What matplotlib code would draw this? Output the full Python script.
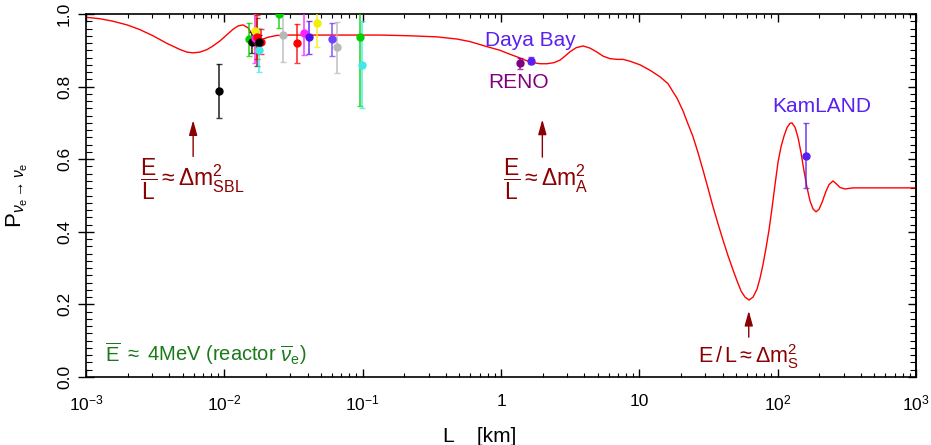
import numpy as np
import matplotlib
matplotlib.use("Agg")
import matplotlib.pyplot as plt
from matplotlib.ticker import FixedLocator, FixedFormatter, LogLocator, MultipleLocator, NullFormatter

# survival probability curve
L_curve = [0.00100, 0.00126, 0.00157, 0.00198, 0.00245, 0.00305, 0.00385, 0.00479, 0.00537,
           0.00594, 0.00667, 0.00750, 0.00828, 0.00931, 0.01045, 0.01156, 0.01256, 0.01365,
           0.01483, 0.01585, 0.01722, 0.0187, 0.0207, 0.0240, 0.0296, 0.0352,
           0.133, 0.220, 0.344, 0.481, 0.597, 0.793, 0.984, 1.162, 1.305, 1.491, 1.704,
           1.914, 2.151, 2.416, 2.671, 2.901, 3.155, 3.486, 3.917, 4.400, 4.944, 5.464,
           6.138, 6.897, 7.621, 8.56, 10.11, 11.95, 14.11, 16.12, 17.23, 18.73, 20.69,
           22.48, 24.44, 26.56, 28.86, 31.37, 34.09, 37.05, 40.27, 43.77, 47.56, 50.83,
           54.35, 58.08, 62.09, 66.33, 70.91, 74.54, 78.36, 82.36, 86.58, 91.02, 95.70,
           100.6, 105.7, 111.2, 116.8, 122.9, 127.0, 133.5, 140.3, 147.5, 155.0, 163.0,
           171.3, 180.1, 189.4, 199.0, 209.3, 223.7, 235.1, 251.2, 264.1, 282.3, 306.9,
           350.5, 1000.0]
P_curve = [0.991, 0.987, 0.980, 0.970, 0.957, 0.940, 0.919, 0.902, 0.895,
           0.893, 0.895, 0.902, 0.912, 0.926, 0.943, 0.958, 0.967, 0.970,
           0.962, 0.945, 0.932, 0.930, 0.936, 0.941, 0.942, 0.942,
           0.942, 0.940, 0.937, 0.931, 0.924, 0.910, 0.900, 0.889, 0.882, 0.873, 0.866,
           0.863, 0.863, 0.866, 0.873, 0.884, 0.896, 0.907, 0.912, 0.906, 0.895, 0.884,
           0.877, 0.875, 0.875, 0.870, 0.860, 0.845, 0.827, 0.808, 0.790, 0.768, 0.733,
           0.697, 0.662, 0.618, 0.570, 0.520, 0.469, 0.422, 0.377, 0.334, 0.295, 0.265,
           0.237, 0.220, 0.212, 0.220, 0.242, 0.272, 0.310, 0.355, 0.405, 0.465, 0.530,
           0.592, 0.634, 0.664, 0.687, 0.699, 0.700, 0.688, 0.660, 0.618, 0.568, 0.522,
           0.485, 0.463, 0.455, 0.462, 0.481, 0.512, 0.530, 0.540, 0.533, 0.522, 0.518,
           0.521, 0.521]

# experiments
pt_L = [0.0092, 0.0151, 0.0158, 0.0171, 0.0167, 0.0167, 0.0171, 0.0178, 0.0184, 0.0178,
        0.0249, 0.0266, 0.0333, 0.0376, 0.0411, 0.0465, 0.0597, 0.0649, 0.0957, 0.0994,
        1.37, 1.64, 160.0]
pt_P = [0.788, 0.930, 0.922, 0.922, 0.954, 0.934, 0.936, 0.900, 0.924, 0.922,
        0.999, 0.943, 0.919, 0.948, 0.936, 0.974, 0.930, 0.908, 0.936, 0.860,
        0.864, 0.871, 0.610]
pt_err = [0.075, 0.045, 0.029, 0.066, 0.05, 0.07, 0.06, 0.061, 0.035, 0.02,
          0.038, 0.074, 0.053, 0.06, 0.046, 0.064, 0.046, 0.07, 0.19, 0.12,
          0.016, 0.01, 0.09]
pt_col = ["#000000", "#00d000", "#000000", "#303030", "#f0f000", "#ff20ff", "#ff0000", "#40e8e8", "#ff0000", "#000000",
          "#00d000", "#b8b8b8", "#ff0000", "#ff20ff", "#5010f0", "#f0f000", "#7040ff", "#b8b8b8", "#00d000", "#40e8e8",
          "#800080", "#5a20f0", "#5a20f0"]

xtick_vals = [1e-3, 1e-2, 1e-1, 1, 10, 100, 1000]
xtick_labels = [r"$10^{-3}$", r"$10^{-2}$", r"$10^{-1}$", "1", "10", r"$10^{2}$", r"$10^{3}$"]

plt.rcParams["font.family"] = ["Liberation Sans", "DejaVu Sans"]
plt.rcParams["mathtext.fontset"] = "custom"
plt.rcParams["mathtext.rm"] = "Liberation Sans"
plt.rcParams["mathtext.it"] = "Liberation Sans:italic"
plt.rcParams["mathtext.bf"] = "Liberation Sans:bold"
plt.rcParams["mathtext.sf"] = "Liberation Sans"

fig = plt.figure(figsize=(9.31, 4.45), dpi=100)
ax = fig.add_axes([86 / 931, 1 - 377 / 445, 830 / 931, 363 / 445])

ax.plot(L_curve, P_curve, color="#ff0000", lw=1.0, zorder=2)

for L, P, e, c in zip(pt_L, pt_P, pt_err, pt_col):
    ax.errorbar([L], [P], yerr=[e], fmt="none", ecolor=c, elinewidth=1.3,
                capsize=2.5, capthick=1.0, alpha=0.75, zorder=3)
    ax.plot([L], [P], "o", ms=5, color=c, zorder=4)

dark = "#8b0000"
arr = dict(arrowstyle="-|>,head_length=0.9,head_width=0.25", color=dark, lw=1.0, mutation_scale=10)
ax.annotate("", xy=(0.00595, 0.715), xytext=(0.00595, 0.600), arrowprops=arr)
ax.annotate("", xy=(1.99, 0.717), xytext=(1.99, 0.598), arrowprops=arr)
ax.annotate("", xy=(61.8, 0.190), xytext=(61.8, 0.102), arrowprops=arr)

ax.text(0.00245, 0.545, r"$\dfrac{\mathrm{E}}{\mathrm{L}}\approx\Delta\mathrm{m}^2_{\mathrm{SBL}}$",
        color=dark, fontsize=16.5, ha="left", va="center")
ax.text(1.034, 0.545, r"$\dfrac{\mathrm{E}}{\mathrm{L}}\approx\Delta\mathrm{m}^2_{\mathrm{A}}$",
        color=dark, fontsize=16.5, ha="left", va="center")
ax.text(26.5, 0.055, r"$\mathrm{E}\,/\,\mathrm{L}\approx\Delta\mathrm{m}^2_{\mathrm{S}}$",
        color=dark, fontsize=15.5, ha="left", va="center")

ax.text(0.00137, 0.066, r"$\overline{\mathrm{E}}$ $\approx$ 4MeV (reactor $\overline{\nu}_{\mathrm{e}}$)",
        color="#1a7a1a", fontsize=14.5, ha="left", va="center")

ax.text(1.62, 0.928, "Daya Bay", color="#5a20f0", fontsize=15, ha="center", va="center")
ax.text(1.35, 0.81, "RENO", color="#800080", fontsize=15, ha="center", va="center")
ax.text(209, 0.744, "KamLAND", color="#5a20f0", fontsize=15, ha="center", va="center")

ax.set_xscale("log")
ax.set_xlim(1e-3, 1e3)
ax.set_ylim(0, 1)
ax.xaxis.set_major_locator(FixedLocator(xtick_vals))
ax.xaxis.set_major_formatter(FixedFormatter(xtick_labels))
ax.xaxis.set_minor_locator(LogLocator(base=10, subs=np.arange(2, 10), numticks=20))
ax.xaxis.set_minor_formatter(NullFormatter())
ax.yaxis.set_major_locator(MultipleLocator(0.2))
ax.yaxis.set_minor_locator(MultipleLocator(0.02))
ax.yaxis.set_major_formatter(plt.FuncFormatter(lambda v, p: f"{v:.1f}"))

ax.tick_params(axis="x", which="major", direction="in", length=5.5, width=1.0, top=True, labelsize=12.5, pad=12)
ax.tick_params(axis="x", which="minor", direction="in", length=3, width=0.8, top=True)
ax.tick_params(axis="y", which="major", direction="inout", length=12, width=1.0, right=False,
               labelsize=12.5, labelrotation=90, pad=4)
ax.tick_params(axis="y", which="minor", direction="in", length=4, width=0.8, right=False)
for lab in ax.get_yticklabels():
    lab.set_va("center")

sec = ax.secondary_yaxis("right")
sec.yaxis.set_major_locator(MultipleLocator(0.2))
sec.yaxis.set_minor_locator(MultipleLocator(0.02))
sec.tick_params(which="major", direction="in", length=6, width=1.0, labelright=False)
sec.tick_params(which="minor", direction="in", length=4, width=0.8)
sec.spines["right"].set_linewidth(1.2)

for s in ax.spines.values():
    s.set_linewidth(1.2)

ax.set_xlabel("L    [km]", fontsize=15)
ax.xaxis.set_label_coords((480 - 86) / 830, (377 - 436) / 363)
ax.xaxis.label.set_va("center")
ax.set_ylabel(r"$\mathrm{P}_{\nu_{\mathrm{e}}\rightarrow\nu_{\mathrm{e}}}$", fontsize=16)
ax.yaxis.set_label_coords((17 - 86) / 830, 0.5)
ax.yaxis.label.set_va("center")

fig.savefig("out.png", dpi=100)
